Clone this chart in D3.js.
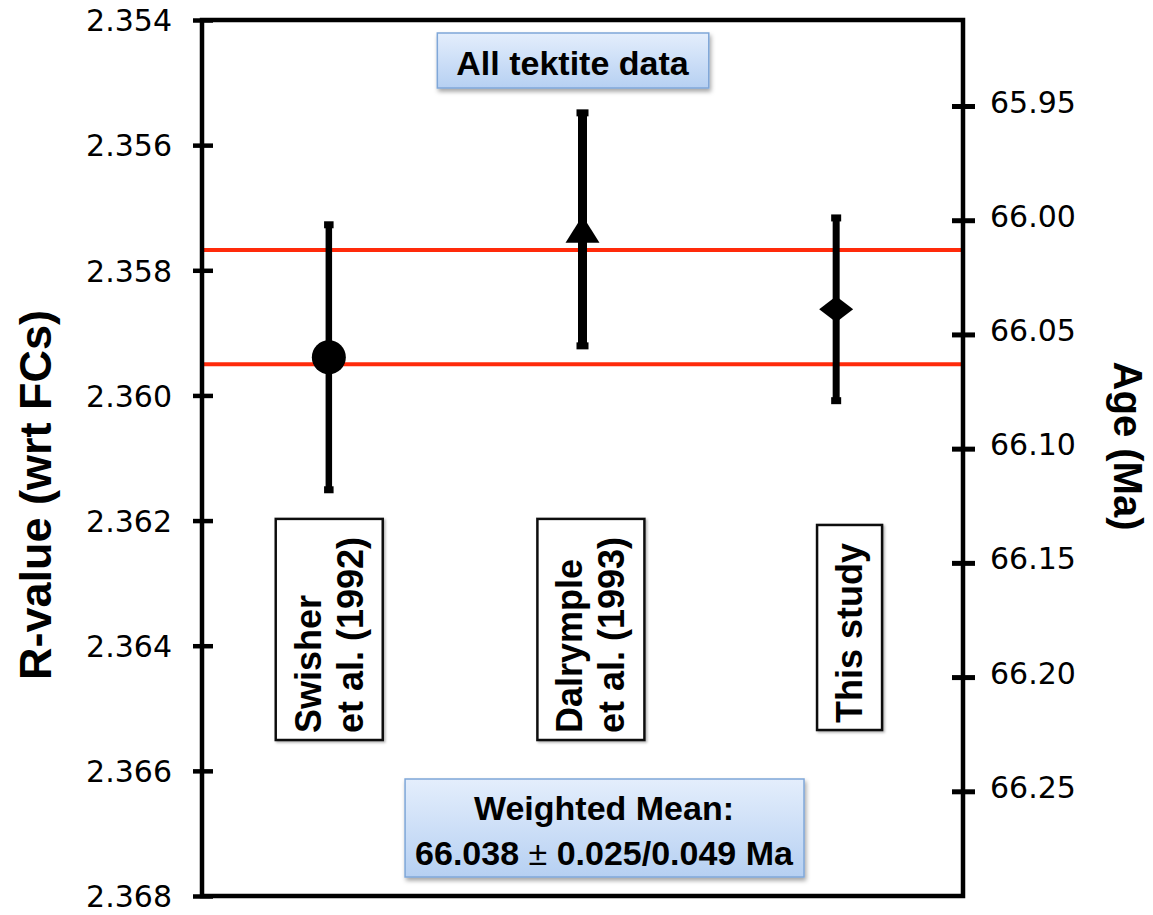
<!DOCTYPE html>
<html>
<head>
<meta charset="utf-8">
<script src="https://cdn.jsdelivr.net/npm/d3@7"></script>
<style>
  body { margin: 0; background: #fff; }
  svg { display: block; }
</style>
</head>
<body>
<svg id="chart" width="1153" height="915"></svg>
<script>
// ---------------- data ----------------
const studies = ["Swisher et al. (1992)", "Dalrymple et al. (1993)", "This study"];
const ages = [66.060, 66.004, 66.039];          // Ma
const errors = [0.058, 0.051, 0.040];           // Ma (half-length of error bar)
const markerShapes = ["circle", "triangle", "diamond"];
const labelLines = [["Swisher", "et al. (1992)"], ["Dalrymple", "et al. (1993)"], ["This study"]];
const weightedMean = 66.038;
const meanErrInternal = 0.025;
const meanErrExternal = 0.049;
const rTicks = [2.354, 2.356, 2.358, 2.360, 2.362, 2.364, 2.366, 2.368];
const ageTicks = [65.95, 66.00, 66.05, 66.10, 66.15, 66.20, 66.25];
const leftTitle = "R-value (wrt FCs)";
const rightTitle = "Age (Ma)";
const topNote = "All tektite data";
const meanTitle = "Weighted Mean:";

// ---------------- layout / style ----------------
const plot = { left: 202, right: 963, top: 20, bottom: 896 };
const ageRangePx = [106, 791.3];
const barWidths = [6.5, 9, 7];
const labelOffsetX = [0, 8, 13];
const labelStartY = [733, 733, 723];
const tickFont = "'DejaVu Sans', Verdana, sans-serif";
const boldFont = "'Liberation Sans', Arial, Helvetica, sans-serif";

const svg = d3.select("#chart");
const defs = svg.append("defs");
const grad = defs.append("linearGradient").attr("id", "blueGrad")
  .attr("x1", 0).attr("y1", 0).attr("x2", 0).attr("y2", 1);
grad.append("stop").attr("offset", "0%").attr("stop-color", "#e4eefc");
grad.append("stop").attr("offset", "100%").attr("stop-color", "#b6d0f2");
const sh = defs.append("filter").attr("id", "shadow")
  .attr("x", "-10%").attr("y", "-10%").attr("width", "130%").attr("height", "140%");
sh.append("feDropShadow").attr("dx", 1.5).attr("dy", 3).attr("stdDeviation", 2)
  .attr("flood-color", "#000").attr("flood-opacity", 0.35);
const sh2 = defs.append("filter").attr("id", "shadow2")
  .attr("x", "-20%").attr("y", "-10%").attr("width", "150%").attr("height", "130%");
sh2.append("feDropShadow").attr("dx", 1.5).attr("dy", 1.5).attr("stdDeviation", 1.2)
  .attr("flood-color", "#000").attr("flood-opacity", 0.3);

// ---------------- scales ----------------
const x = d3.scalePoint().domain(studies).range([plot.left, plot.right]).padding(0.5);
const yR = d3.scaleLinear().domain([rTicks[0], rTicks[rTicks.length - 1]]).range([plot.top, plot.bottom]);
const yAge = d3.scaleLinear().domain([ageTicks[0], ageTicks[ageTicks.length - 1]]).range(ageRangePx);

// ---------------- weighted mean lines ----------------
svg.append("g").selectAll("line")
  .data([weightedMean - meanErrInternal, weightedMean + meanErrInternal])
  .join("line")
  .attr("x1", plot.left).attr("x2", plot.right)
  .attr("y1", d => yAge(d)).attr("y2", d => yAge(d))
  .attr("stroke", "#ff2a0a").attr("stroke-width", 4);

// ---------------- frame ----------------
svg.append("path")
  .attr("d", `M${plot.left},${plot.top}H${plot.right}V${plot.bottom}H${plot.left}Z`)
  .attr("fill", "none").attr("stroke", "#000").attr("stroke-width", 4.5);

// ---------------- error bars & markers ----------------
const pts = studies.map((s, i) => ({ s, age: ages[i], err: errors[i], shape: markerShapes[i], bw: barWidths[i] }));
const gp = svg.append("g");
const pg = gp.selectAll("g").data(pts).join("g");
pg.append("line")
  .attr("x1", d => x(d.s)).attr("x2", d => x(d.s))
  .attr("y1", d => yAge(d.age - d.err)).attr("y2", d => yAge(d.age + d.err))
  .attr("stroke", "#000").attr("stroke-width", d => d.bw);
pg.selectAll("rect.cap").data(d => [[d, d.age - d.err], [d, d.age + d.err]]).join("rect")
  .attr("class", "cap")
  .attr("x", ([d]) => x(d.s) - (d.bw + 3) / 2).attr("width", ([d]) => d.bw + 3)
  .attr("y", ([, v]) => yAge(v) - 3.5).attr("height", 7)
  .attr("fill", "#000");
pg.append("path")
  .attr("transform", d => `translate(${x(d.s)},${yAge(d.age)})`)
  .attr("d", d => {
    if (d.shape === "circle") { const r = 17; return `M${-r},0A${r},${r} 0 1,0 ${r},0A${r},${r} 0 1,0 ${-r},0Z`; }
    if (d.shape === "triangle") { const w = 34, h = 27; return `M0,${-h / 2}L${w / 2},${h / 2}L${-w / 2},${h / 2}Z`; }
    const w = 34, h = 26; return `M0,${-h / 2}L${w / 2},0L0,${h / 2}L${-w / 2},0Z`;
  })
  .attr("fill", "#000");

// ---------------- study label boxes ----------------
const gLab = svg.append("g");
const boxLayer = gLab.append("g");
const textLayer = gLab.append("g");
studies.forEach((s, i) => {
  const cx = x(s) + labelOffsetX[i];
  const y0 = labelStartY[i];
  const lines = labelLines[i];
  const lineH = 42, fs = 36;
  const g = textLayer.append("g").attr("transform", `translate(${cx},${y0}) rotate(-90)`);
  lines.forEach((t, j) => {
    g.append("text")
      .attr("x", 0).attr("y", (j - (lines.length - 1) / 2) * lineH + 12.9)
      .attr("font-family", boldFont).attr("font-weight", "bold").attr("font-size", fs)
      .attr("fill", "#000").text(t);
  });
  const bb = g.node().getBBox();
  const padTop = 18, padBottom = 7, padSide = 12;
  boxLayer.append("rect")
    .attr("x", cx + bb.y - padSide)
    .attr("y", y0 - (bb.x + bb.width) - padTop)
    .attr("width", bb.height + 2 * padSide)
    .attr("height", bb.width + padTop + padBottom)
    .attr("fill", "#fff").attr("stroke", "#111").attr("stroke-width", 2.5)
    .attr("filter", "url(#shadow2)");
});

// ---------------- note boxes ----------------
function noteBox(lines, cx, baseY, lineH, pads) {
  const g = svg.append("g");
  const rect = g.append("rect");
  const t = g.append("g");
  lines.forEach((ln, j) => {
    const tx = t.append("text").attr("x", cx).attr("y", baseY + j * lineH)
      .attr("text-anchor", "middle")
      .attr("font-family", boldFont).attr("font-weight", "bold").attr("font-size", 34).attr("fill", "#000");
    ln.forEach(part => {
      tx.append("tspan").attr("font-weight", part.w || "bold").text(part.t);
    });
  });
  const bb = t.node().getBBox();
  rect.attr("x", bb.x - pads[0]).attr("y", bb.y - pads[1])
    .attr("width", bb.width + 2 * pads[0]).attr("height", bb.height + pads[1] + pads[2])
    .attr("fill", "url(#blueGrad)").attr("stroke", "#7fa7d8").attr("stroke-width", 1.5)
    .attr("filter", "url(#shadow)");
}
noteBox([[{ t: topNote }]], 572.5, 75, 0, [19, 11, 6]);
noteBox([
  [{ t: meanTitle }],
  [{ t: weightedMean.toFixed(3) + " " }, { t: "±", w: "normal" },
   { t: " " + meanErrInternal.toFixed(3) + "/" + meanErrExternal.toFixed(3) + " Ma" }]
], 604, 820, 45, [10, 10, 5]);

// ---------------- axes ----------------
const gL = svg.append("g").attr("transform", `translate(${plot.left},0)`)
  .call(d3.axisLeft(yR).tickValues(rTicks).tickFormat(d3.format(".3f"))
    .tickSizeInner(9).tickSizeOuter(0).tickPadding(21));
gL.select(".domain").remove();
gL.selectAll(".tick line").attr("x1", 11).attr("stroke", "#000").attr("stroke-width", 4.5);
gL.selectAll(".tick text").attr("font-family", tickFont).attr("font-size", 30)
  .attr("fill", "#000").attr("dy", "0.36em");

const gR = svg.append("g").attr("transform", `translate(${plot.right},0)`)
  .call(d3.axisRight(yAge).tickValues(ageTicks).tickFormat(d3.format(".2f"))
    .tickSizeInner(12).tickSizeOuter(0).tickPadding(15));
gR.select(".domain").remove();
gR.selectAll(".tick line").attr("x1", -11).attr("stroke", "#000").attr("stroke-width", 5);
gR.selectAll(".tick text").attr("font-family", tickFont).attr("font-size", 30)
  .attr("fill", "#000").attr("dy", "0.2em");

// ---------------- axis titles ----------------
svg.append("text")
  .attr("transform", `translate(51,495) rotate(-90)`)
  .attr("text-anchor", "middle")
  .attr("font-family", boldFont).attr("font-weight", "bold").attr("font-size", 45)
  .attr("fill", "#000").text(leftTitle);
svg.append("text")
  .attr("transform", `translate(1114,446) rotate(90)`)
  .attr("text-anchor", "middle")
  .attr("font-family", boldFont).attr("font-weight", "bold").attr("font-size", 40)
  .attr("fill", "#000").text(rightTitle);
</script>
</body>
</html>
